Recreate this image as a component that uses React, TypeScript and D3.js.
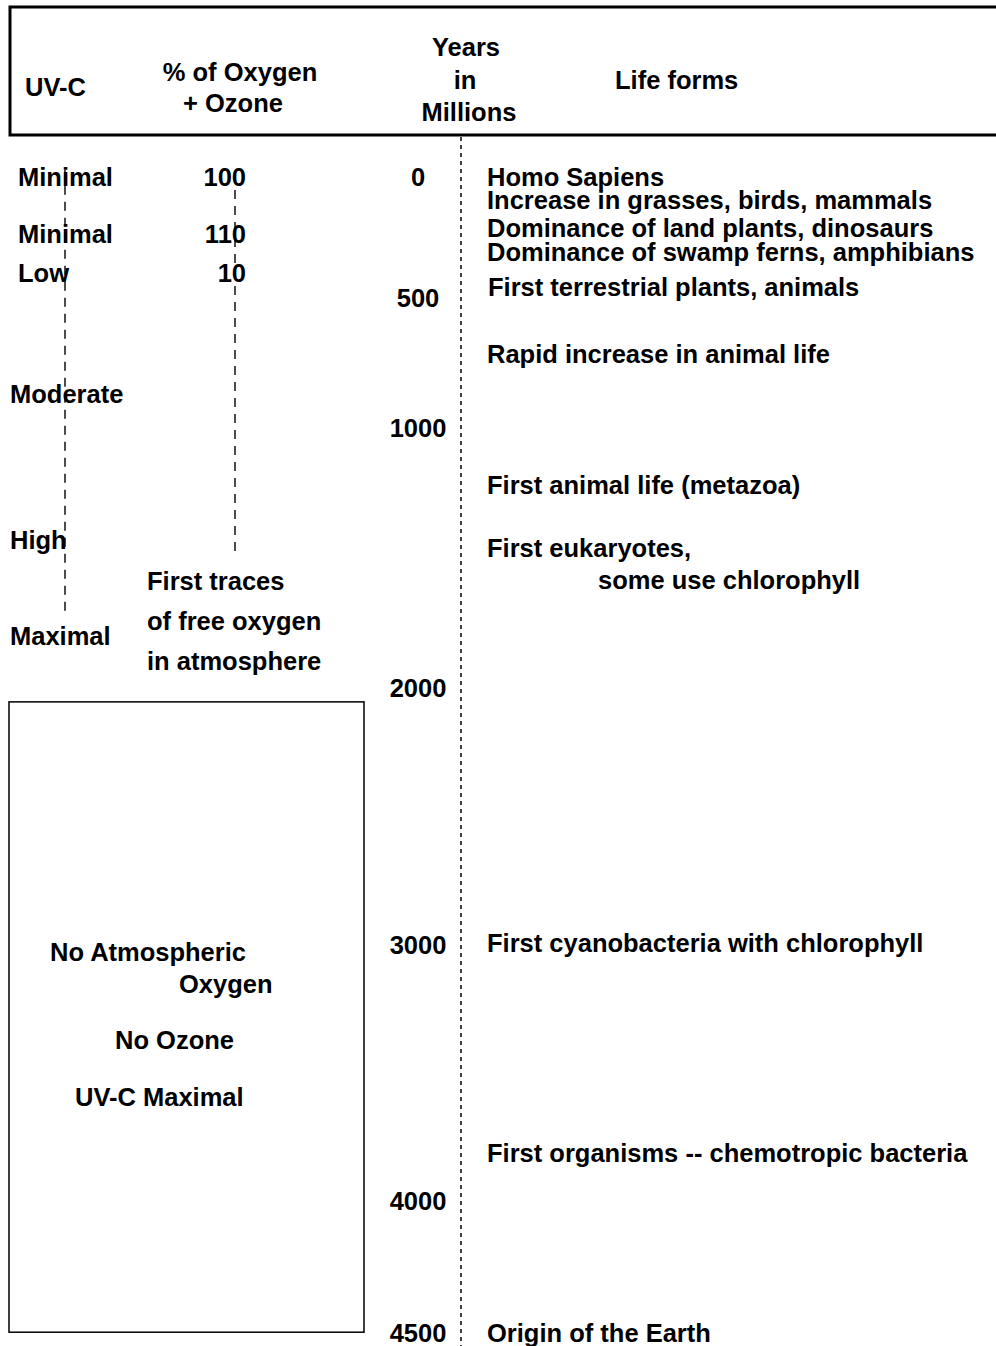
import React from 'react';
import * as d3 from 'd3';

// time axis (millions of years) - the original drawing is not linear, so a polylinear scale
const tickYears = [0, 500, 1000, 2000, 3000, 4000, 4500];
const tickPixels = [177, 298, 428, 688, 945, 1201, 1333];

const lifeForms = [
  'Homo Sapiens',
  'Increase in grasses, birds, mammals',
  'Dominance of land plants, dinosaurs',
  'Dominance of swamp ferns, amphibians',
  'First terrestrial plants, animals',
  'Rapid increase in animal life',
  'First animal life (metazoa)',
  'First eukaryotes,',
  'First cyanobacteria with chlorophyll',
  'First organisms -- chemotropic bacteria',
  'Origin of the Earth',
];
const lifeAges = [0, 95, 211, 310, 455, 715, 1219, 1462, 2992, 3812, 4500];

const uvLevels = ['Minimal', 'Minimal', 'Low', 'Moderate', 'High', 'Maximal'];
const uvAges = [0, 236, 397, 869, 1431, 1800];

const oxygenValues = ['100', '110', '10'];
const oxygenAges = [0, 236, 397];

const tracesLines = ['First traces', 'of free oxygen', 'in atmosphere'];
const tracesAges = [1588, 1742, 1896];

const boxLines = ['No Atmospheric', 'Oxygen', 'No Ozone', 'UV-C Maximal'];
const boxAges = [3026, 3152, 3370, 3594];

const W = 996, H = 1346;
const font = "'Liberation Sans', Arial, Helvetica, sans-serif";

const App = () => {
  const y = d3.scaleLinear().domain(tickYears).range(tickPixels);

  const txt = {
    fontFamily: font,
    fontWeight: 700,
    fontSize: 25.5,
    fill: '#000',
  } as React.CSSProperties;

  const boxX = [9, 364];
  const boxX0 = [50, 179, 115, 75];
  const lifeX = (i: number) => (i === 4 ? 488 : 487);

  return (
    <svg width={W} height={H} style={{ position: 'absolute', left: 0, top: 0, background: '#fff' }}>
      {/* header box */}
      <rect x={10} y={7} width={1000} height={128} fill="none" stroke="#000" strokeWidth={3} />
      <text x={25} y={87} dy="0.35em" style={txt}>UV-C</text>
      <text x={240} y={72} dy="0.35em" textAnchor="middle" style={txt}>% of Oxygen</text>
      <text x={233} y={103} dy="0.35em" textAnchor="middle" style={txt}>+ Ozone</text>
      <text x={466} y={47} dy="0.35em" textAnchor="middle" style={txt}>Years</text>
      <text x={465} y={80} dy="0.35em" textAnchor="middle" style={txt}>in</text>
      <text x={469} y={112} dy="0.35em" textAnchor="middle" style={txt}>Millions</text>
      <text x={615} y={80} dy="0.35em" style={txt}>Life forms</text>

      {/* dashed guide lines */}
      <line x1={461} x2={461} y1={137} y2={H} stroke="#000" strokeWidth={1.5} strokeDasharray="4,4" />
      <line x1={65} x2={65} y1={y(-30)} y2={y(1719)} stroke="#000" strokeWidth={1.4} strokeDasharray="9,7" />
      <line x1={235} x2={235} y1={y(54)} y2={y(1481)} stroke="#000" strokeWidth={1.4} strokeDasharray="9,7" />

      {/* UV-C levels */}
      {uvLevels.map((d, i) => (
        <text key={'uv' + i} x={i < 3 ? 18 : 10} y={y(uvAges[i])} dy="0.35em" style={txt}>{d}</text>
      ))}

      {/* oxygen + ozone */}
      {oxygenValues.map((d, i) => (
        <text key={'ox' + i} x={246} y={y(oxygenAges[i])} dy="0.35em" textAnchor="end" style={txt}>{d}</text>
      ))}
      {tracesLines.map((d, i) => (
        <text key={'tr' + i} x={147} y={y(tracesAges[i])} dy="0.35em" style={txt}>{d}</text>
      ))}

      {/* years axis labels */}
      {tickYears.map((t) => (
        <text key={'t' + t} x={418} y={y(t)} dy="0.35em" textAnchor="middle" style={txt}>{t}</text>
      ))}

      {/* life forms */}
      {lifeForms.map((d, i) => (
        <text key={'lf' + i} x={lifeX(i)} y={y(lifeAges[i])} dy="0.35em" style={txt}>{d}</text>
      ))}
      <text x={598} y={y(lifeAges[7]) + 32} dy="0.35em" style={txt}>some use chlorophyll</text>

      {/* no-oxygen box */}
      <rect x={boxX[0]} y={y(2054)} width={boxX[1] - boxX[0]} height={y(4497) - y(2054)} fill="none" stroke="#000" strokeWidth={1.5} />
      {boxLines.map((d, i) => (
        <text key={'bx' + i} x={boxX0[i]} y={y(boxAges[i])} dy="0.35em" style={txt}>{d}</text>
      ))}
    </svg>
  );
};

export default App;
